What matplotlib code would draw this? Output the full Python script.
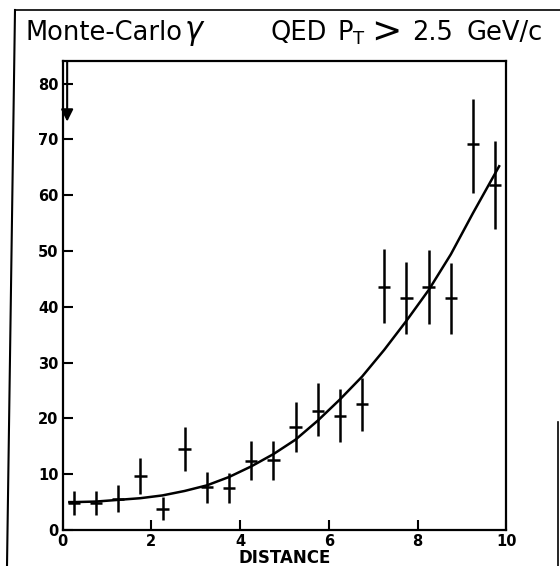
import numpy as np
import matplotlib
matplotlib.use("Agg")
import matplotlib.pyplot as plt
from matplotlib.lines import Line2D

# data
distance = [0.25, 0.75, 1.25, 1.75, 2.25, 2.75, 3.25, 3.75, 4.25, 4.75,
            5.25, 5.75, 6.25, 6.75, 7.25, 7.75, 8.25, 8.75, 9.25, 9.75]
counts = [4.9, 4.9, 5.5, 9.6, 3.8, 14.5, 7.7, 7.5, 12.3, 12.5,
          18.4, 21.4, 20.5, 22.5, 43.6, 41.6, 43.6, 41.6, 69.1, 61.8]
err_lo = [2.2, 2.2, 2.3, 3.2, 2.0, 4.0, 2.9, 2.7, 3.4, 3.6,
          4.5, 4.6, 4.8, 4.8, 6.5, 6.4, 6.6, 6.4, 8.7, 7.9]
err_hi = [2.1, 2.1, 2.5, 3.3, 2.1, 3.9, 2.7, 2.7, 3.7, 3.4,
          4.5, 4.9, 4.7, 4.8, 6.8, 6.4, 6.6, 6.3, 8.2, 8.0]

# fitted curve
fit_x = [0.15, 0.25, 0.75, 1.25, 1.75, 2.25, 2.75, 3.25, 3.75, 4.25, 4.75,
         5.25, 5.75, 6.25, 6.75, 7.25, 7.75, 8.25, 8.75, 9.25, 9.84]
fit_y = [5.0, 5.0, 5.1, 5.4, 5.7, 6.2, 7.0, 8.0, 9.5, 11.4, 13.6,
         16.2, 19.6, 23.4, 27.5, 32.3, 37.5, 43.0, 49.4, 56.8, 65.2]

arrow_x = 0.1
arrow_top = 84
arrow_tip = 73.2

# title pieces: (text, left edge in px, font size) - the original is widely spaced
title_parts = [('Monte-Carlo', 25, 18.5), (r'$\gamma$', 184, 22), ('QED', 270, 18.5),
               (r'P$_\mathrm{T}$', 337, 18.5), ('>', 371, 26), ('2.5', 412, 18.5),
               ('GeV/c', 466, 18.5)]

fig = plt.figure(figsize=(5.6, 5.66), dpi=100)
ax = fig.add_axes([0.112, 0.0636, 0.792, 0.828])

ax.errorbar(distance, counts, yerr=[err_lo, err_hi], xerr=0.14, fmt='none',
            ecolor='black', elinewidth=1.8, capsize=0)
ax.plot(fit_x, fit_y, color='black', lw=1.8)

ax.annotate('', xy=(arrow_x, arrow_tip), xytext=(arrow_x, arrow_top),
            arrowprops=dict(arrowstyle='-|>', color='black', lw=1.5,
                            mutation_scale=18, shrinkA=0, shrinkB=0))

ax.set_xlim(0, 10)
ax.set_ylim(0, 84)
ax.set_xticks([0, 2, 4, 6, 8, 10])
ax.set_yticks([0, 10, 20, 30, 40, 50, 60, 70, 80])
ax.tick_params(direction='in', length=7, width=1.5, labelsize=10.5, pad=3)
for lab in ax.get_xticklabels() + ax.get_yticklabels():
    lab.set_fontweight('bold')
for sp in ax.spines.values():
    sp.set_linewidth(1.6)
ax.set_xlabel('DISTANCE', fontsize=12, fontweight='bold', labelpad=0)

for txt, px, size in title_parts:
    fig.text(px / 560, 1 - 33 / 566, txt, fontsize=size, ha='left', va='center')

# outer frame of the scanned figure
fig.add_artist(Line2D([15 / 560, 7 / 560], [1 - 10 / 566, 0], color='black',
                      lw=1.5, transform=fig.transFigure))
fig.add_artist(Line2D([15 / 560, 1], [1 - 10 / 566, 1 - 10 / 566], color='black',
                      lw=1.2, transform=fig.transFigure))
fig.add_artist(Line2D([558 / 560, 558 / 560], [1 - 422 / 566, 0], color='black',
                      lw=1.2, transform=fig.transFigure))

fig.savefig('out.png', dpi=100)
